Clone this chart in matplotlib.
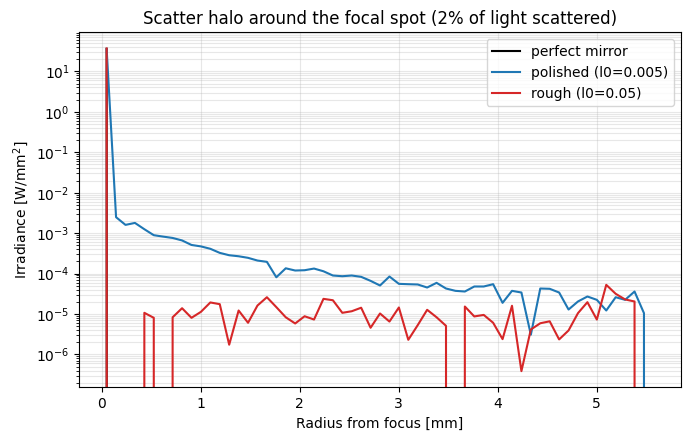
import numpy as np
import matplotlib
matplotlib.use("Agg")
import matplotlib.pyplot as plt


# =========================
# 데이터
# =========================

N_BINS = 59
BIN_WIDTH = 0.0953  # mm

# 반경 bin 중심
radius = (np.arange(N_BINS) + 0.5) * BIN_WIDTH

perfect_mirror = [36.0] + [0.0] * (N_BINS - 1)

polished = [
    36.0, 2.48e-3, 1.6e-3, 1.79e-3, 1.25e-3, 8.9e-4, 8.2e-4, 7.6e-4, 6.6e-4, 5.1e-4,
    4.7e-4, 4.1e-4, 3.25e-4, 2.84e-4, 2.68e-4, 2.45e-4, 2.1e-4, 1.95e-4, 8.1e-5, 1.35e-4,
    1.19e-4, 1.21e-4, 1.33e-4, 1.14e-4, 8.95e-5, 8.6e-5, 8.95e-5, 8.3e-5, 6.6e-5, 5.07e-5,
    8.45e-5, 5.57e-5, 5.46e-5, 5.37e-5, 4.52e-5, 5.9e-5, 4.27e-5, 3.74e-5, 3.6e-5, 4.79e-5,
    4.79e-5, 5.46e-5, 1.89e-5, 3.74e-5, 3.4e-5, 3.07e-6, 4.27e-5, 4.2e-5, 3.4e-5, 1.29e-5,
    2.04e-5, 2.71e-5, 2.24e-5, 1.22e-5, 2.6e-5, 2.24e-5, 3.6e-5, 1.05e-5, 0.0,
]

rough = [
    37.0, 0.0, 0.0, 0.0, 1.07e-5, 8.05e-6, 0.0, 8.3e-6, 1.39e-5, 8.05e-6,
    1.13e-5, 1.93e-5, 1.75e-5, 1.74e-6, 1.22e-5, 6.07e-6, 1.62e-5, 2.6e-5, 1.48e-5, 8.3e-6,
    5.83e-6, 8.8e-6, 7.3e-6, 2.37e-5, 2.19e-5, 1.07e-5, 1.17e-5, 1.43e-5, 4.57e-6, 1.03e-5,
    6.5e-6, 1.45e-5, 2.3e-6, 5.3e-6, 1.27e-5, 8.3e-6, 5.1e-6, 0.0, 1.53e-5, 8.7e-6,
    9.5e-6, 6.07e-6, 2.39e-6, 1.6e-5, 3.86e-7, 4.14e-6, 5.9e-6, 6.6e-6, 2.35e-6, 3.92e-6,
    1.05e-5, 1.96e-5, 7.3e-6, 5.26e-5, 3.16e-5, 2.29e-5, 2.04e-5, 0.0, 0.0,
]


# =========================
# 그림
# =========================

fig, ax = plt.subplots(figsize=(6.89, 4.4), dpi=100)

ax.plot(radius, perfect_mirror, color="black", label="perfect mirror")
ax.plot(radius, polished, color="tab:blue", label="polished (l0=0.005)")
ax.plot(radius, rough, color="tab:red", label="rough (l0=0.05)")

ax.set_yscale("log")
ax.set_title("Scatter halo around the focal spot (2% of light scattered)")
ax.set_xlabel("Radius from focus [mm]")
ax.set_ylabel("Irradiance [W/mm$^2$]")
ax.legend(loc="upper right")
ax.grid(True, which="both", alpha=0.3)

fig.subplots_adjust(left=0.1151, right=0.988, top=0.9266, bottom=0.1198)
fig.savefig("out.png", dpi=100)
plt.close(fig)
